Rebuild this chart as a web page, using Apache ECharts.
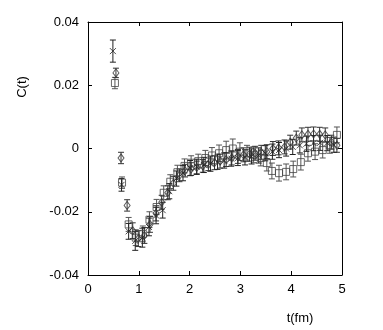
<!DOCTYPE html>
<html>
<head>
<meta charset="utf-8">
<script src="https://cdn.jsdelivr.net/npm/echarts@6/dist/echarts.min.js"></script>
<style>
  html, body { margin: 0; padding: 0; background: #fff; }
  #chart { width: 383px; height: 330px; }
</style>
</head>
<body>
<div id="chart"></div>
<script>
// x tick labels / y tick labels
const xTicks = [0, 1, 2, 3, 4, 5]
const yTicks = [-0.04, -0.02, 0, 0.02, 0.04]

// crosses
const tCross = [0.49, 0.66, 0.80, 0.93, 1.07, 1.20, 1.34, 1.47, 1.60, 1.74, 1.87, 2.01, 2.14, 2.28, 2.41, 2.55, 2.68,
  2.82, 2.95, 3.09, 3.22, 3.36, 3.49, 3.63, 3.76, 3.90, 4.03, 4.17, 4.30, 4.44, 4.57, 4.71, 4.84]
const cCross = [0.0308, -0.0115, -0.0262, -0.0292, -0.0282, -0.0248, -0.0212, -0.0195, -0.0135, -0.0095, -0.0078,
  -0.0062, -0.0058, -0.0052, -0.0048, -0.0042, -0.0038, -0.0032, -0.0030, -0.0028, -0.0025, -0.0022, -0.0015,
  -0.0010, -0.0005, 0.0000, 0.0005, 0.0010, 0.0015, 0.0017, 0.0018, 0.0017, 0.0012]
const eCross = [0.0035, 0.0020, 0.0025, 0.0030, 0.0030, 0.0028, 0.0026, 0.0025, 0.0024, 0.0024, 0.0024, 0.0024,
  0.0024, 0.0024, 0.0024, 0.0024, 0.0024, 0.0024, 0.0024, 0.0024, 0.0024, 0.0024, 0.0024, 0.0024, 0.0024, 0.0024,
  0.0024, 0.0024, 0.0024, 0.0024, 0.0024, 0.0024, 0.0024]

// diamonds
const tDiam = [0.55, 0.65, 0.77, 0.88, 0.99, 1.11, 1.22, 1.34, 1.45, 1.57, 1.68, 1.80, 1.91, 2.03, 2.14, 2.26, 2.37,
  2.49, 2.60, 2.72, 2.83, 2.95, 3.06, 3.18, 3.29, 3.41, 3.52, 3.64, 3.75, 3.87, 3.98, 4.10, 4.21, 4.33, 4.44, 4.56,
  4.67, 4.79, 4.90]
const cDiam = [0.0239, -0.0030, -0.0180, -0.0260, -0.0285, -0.0275, -0.0240, -0.0205, -0.0170, -0.0140, -0.0110,
  -0.0085, -0.0070, -0.0065, -0.0060, -0.0055, -0.0050, -0.0045, -0.0040, -0.0035, -0.0030, -0.0025, -0.0020,
  -0.0018, -0.0015, -0.0012, -0.0010, 0.0000, 0.0002, 0.0005, 0.0020, 0.0033, 0.0043, 0.0045, 0.0046, 0.0045,
  0.0043, 0.0020, 0.0010]
const eDiam = [0.0015, 0.0018, 0.0018, 0.0025, 0.0025, 0.0025, 0.0025, 0.0024, 0.0022, 0.0022, 0.0022, 0.0020,
  0.0020, 0.0020, 0.0020, 0.0020, 0.0020, 0.0022, 0.0022, 0.0022, 0.0022, 0.0022, 0.0022, 0.0022, 0.0022, 0.0022,
  0.0022, 0.0022, 0.0022, 0.0022, 0.0022, 0.0022, 0.0022, 0.0022, 0.0022, 0.0022, 0.0022, 0.0022, 0.0022]

// squares
const tSq = [0.53, 0.67, 0.80, 0.94, 1.08, 1.21, 1.35, 1.49, 1.62, 1.76, 1.90, 2.03, 2.17, 2.31, 2.44, 2.58, 2.72,
  2.85, 2.99, 3.13, 3.26, 3.40, 3.52, 3.62, 3.76, 3.90, 4.04, 4.19, 4.33, 4.47, 4.62, 4.76, 4.90]
const cSq = [0.0207, -0.0108, -0.0240, -0.0282, -0.0270, -0.0225, -0.0185, -0.0140, -0.0105, -0.0075, -0.0055,
  -0.0045, -0.0040, -0.0030, -0.0022, -0.0015, -0.0005, 0.0000, -0.0010, -0.0015, -0.0020, -0.0030, -0.0046,
  -0.0071, -0.0078, -0.0074, -0.0065, -0.0043, -0.0015, -0.0010, -0.0005, 0.0010, 0.0043]
const eSq = [0.0018, 0.0018, 0.0022, 0.0025, 0.0025, 0.0025, 0.0024, 0.0022, 0.0022, 0.0022, 0.0022, 0.0022,
  0.0022, 0.0024, 0.0025, 0.0026, 0.0028, 0.0030, 0.0028, 0.0025, 0.0025, 0.0025, 0.0025, 0.0025, 0.0025, 0.0025,
  0.0025, 0.0025, 0.0025, 0.0025, 0.0025, 0.0025, 0.0025]

const crossPath = 'path://M0,0L10,10M10,0L0,10'

const points = (ts, cs) => ts.map((t, i) => [t, cs[i]])
const bars = (ts, cs, es) => ts.map((t, i) => [t, cs[i] - es[i], cs[i] + es[i]])

const errRender = (color) => (params, api) => {
  const x = api.value(0)
  const lo = api.coord([x, api.value(1)])
  const hi = api.coord([x, api.value(2)])
  const style = { stroke: color, lineWidth: 1 }
  return {
    type: 'group',
    children: [
      { type: 'line', shape: { x1: lo[0], y1: lo[1], x2: hi[0], y2: hi[1] }, style },
      { type: 'line', shape: { x1: lo[0] - 3, y1: lo[1], x2: lo[0] + 3, y2: lo[1] }, style },
      { type: 'line', shape: { x1: hi[0] - 3, y1: hi[1], x2: hi[0] + 3, y2: hi[1] }, style }
    ]
  }
}

const errSeries = (data, color) => ({
  type: 'custom',
  renderItem: errRender(color),
  data,
  encode: { x: 0, y: [1, 2] },
  silent: true,
  z: 1
})

const markSeries = (data, symbol, size, color) => ({
  type: 'scatter',
  data,
  symbol,
  symbolSize: size,
  itemStyle: { color: 'none', borderColor: color, borderWidth: 1 },
  z: 2
})

const fontFamily = 'Liberation Sans, Arial, sans-serif'
const axisLine = { show: true, onZero: false, lineStyle: { color: '#000', width: 1 } }
const tick = { show: true, inside: true, length: 4, lineStyle: { color: '#000' } }

const chart = echarts.init(document.getElementById('chart'))

const option = {
  animation: false,
  backgroundColor: '#fff',
  grid: { left: 88, right: 41, top: 22, bottom: 55 },
  xAxis: [
    {
      type: 'value', min: xTicks[0], max: xTicks[xTicks.length - 1], interval: 1,
      axisLine, axisTick: tick, splitLine: { show: false },
      axisLabel: { color: '#000', fontSize: 13, fontFamily, margin: 8 }
    },
    {
      type: 'value', position: 'top', min: xTicks[0], max: xTicks[xTicks.length - 1], interval: 1,
      axisLine, axisTick: tick, splitLine: { show: false }, axisLabel: { show: false }
    }
  ],
  yAxis: [
    {
      type: 'value', min: yTicks[0], max: yTicks[yTicks.length - 1], interval: 0.02,
      axisLine, axisTick: tick, splitLine: { show: false },
      axisLabel: { color: '#000', fontSize: 13, fontFamily, margin: 9 }
    },
    {
      type: 'value', position: 'right', min: yTicks[0], max: yTicks[yTicks.length - 1], interval: 0.02,
      axisLine, axisTick: tick, splitLine: { show: false }, axisLabel: { show: false }
    }
  ],
  graphic: [
    {
      type: 'text', x: 22, y: 87, rotation: Math.PI / 2,
      style: { text: 'C(t)', fill: '#000', font: '13px ' + fontFamily, align: 'center', verticalAlign: 'middle' }
    },
    {
      type: 'text', x: 300, y: 318,
      style: { text: 't(fm)', fill: '#000', font: '13px ' + fontFamily, align: 'center', verticalAlign: 'middle' }
    }
  ],
  series: [
    errSeries(bars(tSq, cSq, eSq), '#555'),
    errSeries(bars(tDiam, cDiam, eDiam), '#333'),
    errSeries(bars(tCross, cCross, eCross), '#222'),
    markSeries(points(tSq, cSq), 'rect', 7, '#444'),
    markSeries(points(tDiam, cDiam), 'diamond', [6, 8], '#333'),
    markSeries(points(tCross, cCross), crossPath, 6, '#222')
  ]
}

chart.setOption(option)
</script>
</body>
</html>
